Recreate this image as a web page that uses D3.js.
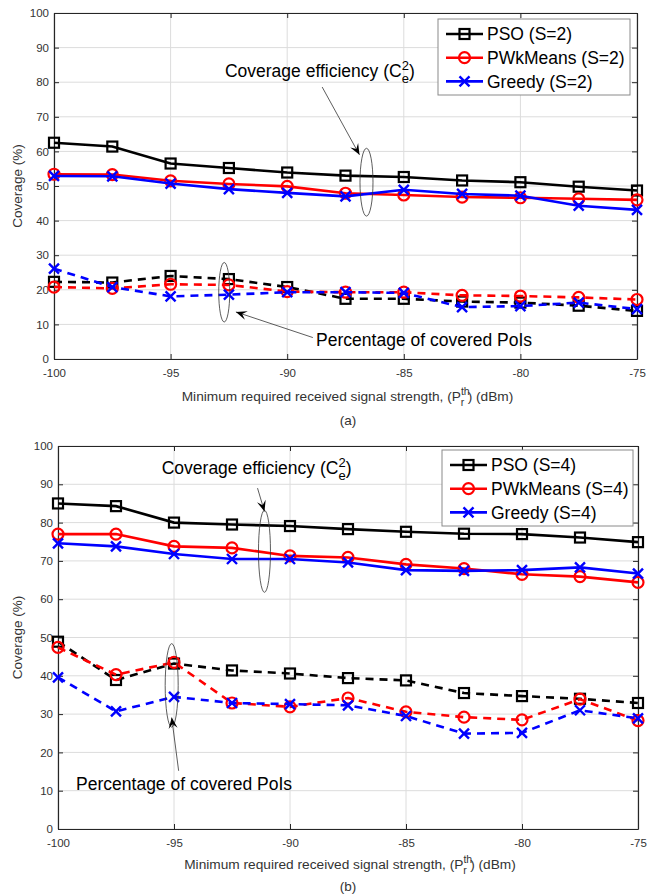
<!DOCTYPE html>
<html>
<head>
<meta charset="utf-8">
<script src="https://cdn.jsdelivr.net/npm/d3@7"></script>
<style>
  body { margin: 0; background: #fff; }
  svg text { font-family: "Liberation Sans", Arial, sans-serif; }
</style>
</head>
<body>
<div id="chart"></div>
<script>
// x values (dBm)
var rss = [-100, -97.5, -95, -92.5, -90, -87.5, -85, -82.5, -80, -77.5, -75];
var xTicks = [-100, -95, -90, -85, -80, -75];
var yTicks = [0, 10, 20, 30, 40, 50, 60, 70, 80, 90, 100];

// panel (a), S=2 : coverage efficiency (solid)
var psoEffA    = [62.5, 61.4, 56.5, 55.2, 53.9, 53.0, 52.6, 51.6, 51.1, 49.8, 48.7];
var pwkEffA    = [53.4, 53.3, 51.5, 50.6, 49.9, 47.9, 47.4, 46.8, 46.6, 46.3, 46.0];
var greedyEffA = [52.9, 52.8, 50.7, 49.1, 48.0, 47.0, 48.9, 47.7, 47.2, 44.3, 43.1];
// panel (a), S=2 : percentage of covered PoIs (dashed)
var psoPoiA    = [22.3, 22.1, 24.0, 23.1, 20.8, 17.4, 17.4, 16.6, 16.3, 15.4, 13.9];
var pwkPoiA    = [20.8, 20.4, 21.6, 21.4, 19.5, 19.3, 19.3, 18.4, 18.2, 17.8, 17.2];
var greedyPoiA = [26.1, 20.8, 18.1, 18.6, 19.3, 19.3, 19.1, 15.0, 15.3, 16.3, 14.4];

// panel (b), S=4 : coverage efficiency (solid)
var psoEffB    = [85.0, 84.3, 80.0, 79.5, 79.1, 78.3, 77.6, 77.1, 77.0, 76.1, 74.9];
var pwkEffB    = [77.0, 77.0, 73.8, 73.4, 71.3, 70.9, 69.1, 68.0, 66.5, 65.9, 64.4];
var greedyEffB = [74.6, 73.8, 71.8, 70.5, 70.5, 69.6, 67.6, 67.4, 67.6, 68.3, 66.7];
// panel (b), S=4 : percentage of covered PoIs (dashed)
var psoPoiB    = [48.9, 38.9, 43.2, 41.4, 40.6, 39.4, 38.8, 35.5, 34.7, 34.0, 32.9];
var pwkPoiB    = [47.4, 40.3, 43.5, 32.9, 31.9, 34.2, 30.6, 29.2, 28.5, 33.9, 28.3];
var greedyPoiB = [39.6, 30.7, 34.5, 32.9, 32.6, 32.3, 29.5, 24.9, 25.1, 31.0, 28.9];

var seriesNames = ["PSO", "PWkMeans", "Greedy"];
var seriesColors = ["#000000", "#ff0000", "#0000ff"];
var seriesMarkers = ["square", "circle", "cross"];

var W = 647, H = 895;
var svg = d3.select("#chart").append("svg").attr("width", W).attr("height", H);

function marker(g, type, color, px, py) {
  if (type === "square") {
    g.append("rect").attr("x", px - 5).attr("y", py - 5).attr("width", 10).attr("height", 10)
      .attr("fill", "none").attr("stroke", color).attr("stroke-width", 2.2);
  } else if (type === "circle") {
    g.append("circle").attr("cx", px).attr("cy", py).attr("r", 5.5)
      .attr("fill", "none").attr("stroke", color).attr("stroke-width", 2.2);
  } else {
    g.append("path").attr("d", "M" + (px - 5) + "," + (py - 5) + "L" + (px + 5) + "," + (py + 5) +
      "M" + (px - 5) + "," + (py + 5) + "L" + (px + 5) + "," + (py - 5))
      .attr("stroke", color).attr("stroke-width", 2.4).attr("fill", "none");
  }
}

function drawPanel(cfg) {
  var x = d3.scaleLinear().domain([-100, -75]).range([cfg.left, cfg.right]);
  var y = d3.scaleLinear().domain([0, 100]).range([cfg.bottom, cfg.top]);
  var g = svg.append("g");
  var plain = function(d){ return String(d); }; // keep the ascii hyphen like the original

  // grid
  g.append("g").selectAll("line.gx").data(xTicks).enter().append("line")
    .attr("x1", function(d){ return x(d); }).attr("x2", function(d){ return x(d); })
    .attr("y1", cfg.top).attr("y2", cfg.bottom).attr("stroke", "#dcdcdc").attr("stroke-width", 1);
  g.append("g").selectAll("line.gy").data(yTicks).enter().append("line")
    .attr("y1", function(d){ return y(d); }).attr("y2", function(d){ return y(d); })
    .attr("x1", cfg.left).attr("x2", cfg.right).attr("stroke", "#dcdcdc").attr("stroke-width", 1);

  // axes, box on with inward ticks
  var xAxis = d3.axisBottom(x).tickValues(xTicks).tickFormat(plain).tickSizeInner(-5).tickSizeOuter(0).tickPadding(10);
  var yAxis = d3.axisLeft(y).tickValues(yTicks).tickFormat(plain).tickSizeInner(-5).tickSizeOuter(0).tickPadding(5);
  var ax = g.append("g").attr("transform", "translate(0," + cfg.bottom + ")").call(xAxis);
  var ay = g.append("g").attr("transform", "translate(" + cfg.left + ",0)").call(yAxis);
  g.append("g").attr("transform", "translate(0," + cfg.top + ")")
    .call(d3.axisTop(x).tickValues(xTicks).tickSizeInner(-5).tickSizeOuter(0).tickFormat(""));
  g.append("g").attr("transform", "translate(" + cfg.right + ",0)")
    .call(d3.axisRight(y).tickValues(yTicks).tickSizeInner(-5).tickSizeOuter(0).tickFormat(""));
  g.selectAll(".domain").attr("stroke", "#262626").attr("stroke-width", 1.2);
  g.selectAll(".tick line").attr("stroke", "#262626");
  [ax, ay].forEach(function(a){
    a.selectAll("text").attr("fill", "#333").style("font-size", "11.5px")
      .style("font-family", "'Liberation Sans', Arial, sans-serif");
  });

  // series
  var line = d3.line().x(function(d){ return x(d[0]); }).y(function(d){ return y(d[1]); });
  function series(vals, i, dashed) {
    var pts = rss.map(function(r, k){ return [r, vals[k]]; });
    g.append("path").datum(pts).attr("d", line).attr("fill", "none")
      .attr("stroke", seriesColors[i]).attr("stroke-width", 2.6)
      .attr("stroke-dasharray", dashed ? "8,6" : null);
    var mg = g.append("g");
    pts.forEach(function(p){ marker(mg, seriesMarkers[i], seriesColors[i], x(p[0]), y(p[1])); });
  }
  cfg.poi.forEach(function(v, i){ series(v, i, true); });
  cfg.eff.forEach(function(v, i){ series(v, i, false); });

  // annotations
  function ellipse(e) {
    g.append("ellipse").attr("cx", x(e[0])).attr("cy", y(e[1]))
      .attr("rx", e[2]).attr("ry", Math.abs(y(e[1] + e[3]) - y(e[1])))
      .attr("fill", "none").attr("stroke", "#333").attr("stroke-width", 0.8);
  }
  function arrow(a) {
    var x1 = x(a[0]), y1 = y(a[1]), x2 = x(a[2]), y2 = y(a[3]);
    g.append("line").attr("x1", x1).attr("y1", y1).attr("x2", x2).attr("y2", y2)
      .attr("stroke", "#333").attr("stroke-width", 0.8);
    var ang = Math.atan2(y2 - y1, x2 - x1), L = 11, w = 4.5;
    var bx = x2 - L * Math.cos(ang), by = y2 - L * Math.sin(ang);
    var nx = -Math.sin(ang), ny = Math.cos(ang);
    var ix = x2 - 0.6 * L * Math.cos(ang), iy = y2 - 0.6 * L * Math.sin(ang);
    g.append("path").attr("d", "M" + x2 + "," + y2 + "L" + (bx + nx * w) + "," + (by + ny * w) +
      "L" + ix + "," + iy + "L" + (bx - nx * w) + "," + (by - ny * w) + "Z").attr("fill", "#000");
  }
  ellipse(cfg.effEllipse); ellipse(cfg.poiEllipse);
  arrow(cfg.effArrow); arrow(cfg.poiArrow);

  var t1 = g.append("text").attr("x", x(cfg.effText[0])).attr("y", y(cfg.effText[1]))
    .style("font-size", "17.5px").attr("fill", "#000");
  t1.append("tspan").text("Coverage efficiency (C");
  t1.append("tspan").attr("dy", -7).style("font-size", "13px").text("2");
  t1.append("tspan").attr("dx", -7.2).attr("dy", 13).style("font-size", "13px").text("e");
  t1.append("tspan").attr("dy", -6).text(")");
  g.append("text").attr("x", x(cfg.poiText[0])).attr("y", y(cfg.poiText[1]))
    .style("font-size", "17.5px").attr("fill", "#000").text("Percentage of covered PoIs");

  // axis labels
  g.append("text").attr("transform", "translate(22," + ((cfg.top + cfg.bottom) / 2) + ") rotate(-90)")
    .attr("text-anchor", "middle").style("font-size", "13.5px").attr("fill", "#333").text("Coverage (%)");
  var xt = g.append("text").attr("x", (cfg.left + cfg.right) / 2 + 2).attr("y", cfg.bottom + cfg.titleGap)
    .attr("text-anchor", "middle").style("font-size", "13.7px").attr("fill", "#333");
  xt.append("tspan").text("Minimum required received signal strength, (P");
  xt.append("tspan").attr("dy", -6).style("font-size", "10.5px").text("th");
  xt.append("tspan").attr("dx", -9).attr("dy", 11).style("font-size", "10.5px").text("r");
  xt.append("tspan").attr("dx", 3.5).attr("dy", -5).text(") (dBm)");
  g.append("text").attr("x", 348).attr("y", cfg.bottom + cfg.captionGap).attr("text-anchor", "middle")
    .style("font-size", "13.5px").attr("fill", "#333").text(cfg.caption);

  // legend
  var lg = g.append("g");
  lg.append("rect").attr("x", cfg.legend[0]).attr("y", cfg.legend[1])
    .attr("width", cfg.legend[2]).attr("height", cfg.legend[3])
    .attr("fill", "#fff").attr("stroke", "#8a8a8a").attr("stroke-width", 1);
  seriesNames.forEach(function(n, i){
    var ly = cfg.legend[1] + 15 + i * 23.7;
    var lx = cfg.legend[0] + 8;
    lg.append("line").attr("x1", lx).attr("x2", lx + 37).attr("y1", ly).attr("y2", ly)
      .attr("stroke", seriesColors[i]).attr("stroke-width", 2.6);
    marker(lg, seriesMarkers[i], seriesColors[i], lx + 18.5, ly);
    lg.append("text").attr("x", lx + 41).attr("y", ly + 6.3).style("font-size", "17.5px")
      .attr("fill", "#000").text(n + " (S=" + cfg.s + ")");
  });
}

drawPanel({
  left: 54, right: 637, top: 13, bottom: 359, s: 2, caption: "(a)", titleGap: 42, captionGap: 66,
  eff: [psoEffA, pwkEffA, greedyEffA], poi: [psoPoiA, pwkPoiA, greedyPoiA],
  effEllipse: [-86.6, 51.1, 6.5, 9.8], poiEllipse: [-92.7, 19.3, 5.5, 8.6],
  effArrow: [-88.5, 78.6, -86.9, 59.0], poiArrow: [-88.9, 6.2, -92.2, 13.6],
  effText: [-92.67, 81.6], poiText: [-88.76, 3.8],
  legend: [438, 19, 192, 76]
});
drawPanel({
  left: 58, right: 638, top: 446, bottom: 829, s: 4, caption: "(b)", titleGap: 40, captionGap: 62,
  eff: [psoEffB, pwkEffB, greedyEffB], poi: [psoPoiB, pwkPoiB, greedyPoiB],
  effEllipse: [-91.1, 72.5, 6, 10.7], poiEllipse: [-95.1, 37.5, 6.5, 10.9],
  effArrow: [-91.4, 89.0, -91.1, 82.9], poiArrow: [-94.8, 15.2, -95.1, 29.1],
  effText: [-95.53, 92.7], poiText: [-99.22, 10.2],
  legend: [442, 450, 191, 76]
});
</script>
</body>
</html>
